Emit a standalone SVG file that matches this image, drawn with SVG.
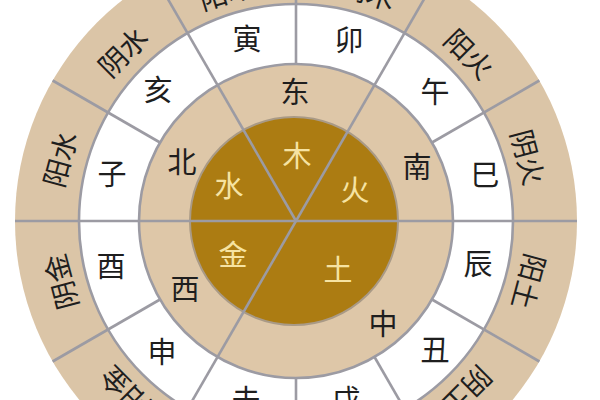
<svg xmlns="http://www.w3.org/2000/svg" width="600" height="400" viewBox="0 0 600 400">
  <style>
    .t { font-family: "Noto Sans CJK SC", "Noto Sans", sans-serif; text-anchor: middle; dominant-baseline: central; }
    .dark { fill: #1e1e1e; font-size: 29px; }
    .outer { fill: #1e1e1e; font-size: 28px; }
    .gold { fill: #f6e3a2; font-size: 29px; }
    .div { stroke: #9c9ba3; stroke-width: 2.6; fill: none; stroke-linecap: butt; }
  </style>
  <rect width="600" height="400" fill="#ffffff"/>
  <g id="ring-outer">
    <circle cx="296" cy="221" r="281" fill="#dbc5a7"/>
  </g>
  <g id="ring-branches">
    <circle cx="296" cy="221" r="217" fill="#ffffff" stroke="#9c9ba3" stroke-width="2.6"/>
  </g>
  <g id="ring-directions">
    <circle cx="296" cy="221" r="157" fill="#dec7a8" stroke="#9c9ba3" stroke-width="2.6"/>
  </g>
  <g id="disk-elements">
    <circle cx="294" cy="221" r="104" fill="#ac7c12" stroke="#a99a86" stroke-width="2"/>
  </g>
  <g id="connectors">
    <line class="div" x1="15" y1="221" x2="577" y2="221"/>
    <line class="div" x1="155.5" y1="464.4" x2="436.5" y2="-22.4"/>
    <line class="div" x1="296" y1="221" x2="155.5" y2="-22.4"/>
    <line class="div" x1="432" y1="299.5" x2="539.4" y2="361.5"/>
    <line class="div" x1="374.5" y1="357" x2="436.5" y2="464.4"/>
    <line class="div" x1="296" y1="378" x2="296" y2="502"/>
    <line class="div" x1="160" y1="299.5" x2="52.6" y2="361.5"/>
    <line class="div" x1="160" y1="142.5" x2="52.6" y2="80.5"/>
    <line class="div" x1="296" y1="64" x2="296" y2="-60"/>
    <line class="div" x1="432" y1="142.5" x2="539.4" y2="80.5"/>
  </g>
  <g id="labels-elements">
    <g id="n-mu"><text class="t gold" x="297" y="154">木</text></g>
    <g id="n-huo"><text class="t gold" x="355" y="188">火</text></g>
    <g id="n-shui"><text class="t gold" x="229" y="184">水</text></g>
    <g id="n-jin"><text class="t gold" x="233" y="253">金</text></g>
    <g id="n-tu"><text class="t gold" x="338" y="268">土</text></g>
  </g>
  <g id="labels-directions">
    <g id="n-dong"><text class="t dark" x="295" y="90">东</text></g>
    <g id="n-nan"><text class="t dark" x="417" y="165">南</text></g>
    <g id="n-zhong"><text class="t dark" x="383" y="322">中</text></g>
    <g id="n-xi"><text class="t dark" x="185" y="287">西</text></g>
    <g id="n-bei"><text class="t dark" x="182" y="160">北</text></g>
  </g>
  <g id="labels-branches">
    <g id="n-yin"><text class="t dark" x="247" y="37">寅</text></g>
    <g id="n-mao"><text class="t dark" x="349" y="38">卯</text></g>
    <g id="n-wu"><text class="t dark" x="435" y="90">午</text></g>
    <g id="n-si"><text class="t dark" x="485" y="173">巳</text></g>
    <g id="n-chen"><text class="t dark" x="478" y="262">辰</text></g>
    <g id="n-chou"><text class="t dark" x="435" y="348">丑</text></g>
    <g id="n-xu"><text class="t dark" x="346" y="398">戌</text></g>
    <g id="n-wei"><text class="t dark" x="246" y="398">未</text></g>
    <g id="n-shen"><text class="t dark" x="162" y="350">申</text></g>
    <g id="n-you"><text class="t dark" x="111" y="264">酉</text></g>
    <g id="n-zi"><text class="t dark" x="112" y="172">子</text></g>
    <g id="n-hai"><text class="t dark" x="158" y="88">亥</text></g>
  </g>
  <g id="labels-yinyang">
    <g id="n-yangmu"><text class="t outer" transform="translate(226,-9) rotate(-17)">阳木</text></g>
    <g id="n-yinmu"><text class="t outer" transform="translate(368,-9) rotate(17)">阴木</text></g>
    <g id="n-yanghuo"><text class="t outer" transform="translate(470,53) rotate(45)">阳火</text></g>
    <g id="n-yinhuo"><text class="t outer" transform="translate(529,157) rotate(75)">阴火</text></g>
    <g id="n-yangtu"><text class="t outer" transform="translate(530,282) rotate(105)">阳土</text></g>
    <g id="n-yintu"><text class="t outer" transform="translate(468,392) rotate(135)">阴土</text></g>
    <g id="n-yangjin"><text class="t outer" transform="translate(124,392) rotate(225)">阳金</text></g>
    <g id="n-yinjin"><text class="t outer" transform="translate(60,282) rotate(255)">阴金</text></g>
    <g id="n-yangshui"><text class="t outer" transform="translate(59,159) rotate(285)">阳水</text></g>
    <g id="n-yinshui"><text class="t outer" transform="translate(122,51) rotate(315)">阴水</text></g>
  </g>
</svg>
